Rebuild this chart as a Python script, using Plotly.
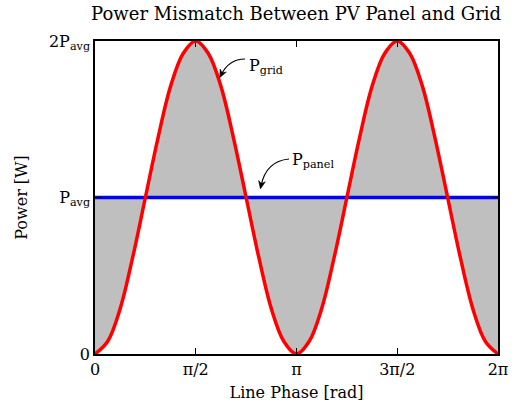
import math
import plotly.graph_objects as go

# Line phase samples (multiples of pi/16), in radians
phase_steps = list(range(0, 33))
phase = [k * math.pi / 16 for k in phase_steps]

# Grid power, in units of P_avg
p_grid = [0.00, 0.08, 0.29, 0.62, 1.00, 1.38, 1.71, 1.92, 2.00,
          1.92, 1.71, 1.38, 1.00, 0.62, 0.29, 0.08, 0.00,
          0.08, 0.29, 0.62, 1.00, 1.38, 1.71, 1.92, 2.00,
          1.92, 1.71, 1.38, 1.00, 0.62, 0.29, 0.08, 0.00]
# Panel power (constant P_avg)
p_panel = [1.0] * 33

x_tick_vals = [0, math.pi / 2, math.pi, 3 * math.pi / 2, 2 * math.pi]
x_tick_text = ["0", "π/2", "π", "3π/2", "2π"]
y_tick_vals = [0, 1, 2]
y_tick_text = ["0", "P<sub>avg</sub>", "2P<sub>avg</sub>"]

FONT = "DejaVu Serif"

fig = go.Figure()
fig.add_trace(go.Scatter(x=phase, y=p_panel, mode="lines",
                         line=dict(color="rgba(0,0,0,0)", width=0),
                         showlegend=False, hoverinfo="skip"))
fig.add_trace(go.Scatter(x=phase, y=p_grid, mode="lines", fill="tonexty",
                         fillcolor="#bfbfbf", line=dict(color="rgba(0,0,0,0)", width=0, shape="spline"),
                         showlegend=False, hoverinfo="skip"))
fig.add_trace(go.Scatter(x=phase, y=p_panel, mode="lines",
                         line=dict(color="#0000ff", width=3.5), showlegend=False))
fig.add_trace(go.Scatter(x=phase, y=p_grid, mode="lines",
                         line=dict(color="#ff0000", width=3.5, shape="spline"), showlegend=False))

# curved arrows (pixel positions converted to data coordinates)
def px2x(px):
    return (px - 95) / 403 * 2 * math.pi

def px2y(py):
    return (354 - py) / 313 * 2

arrows = [
    ((245, 59), (229, 59), (221, 75)),
    ((289, 159), (266, 161), (261, 186)),
]
for (s, c, e) in arrows:
    path = "M {} {} Q {} {} {} {}".format(px2x(s[0]), px2y(s[1]), px2x(c[0]), px2y(c[1]), px2x(e[0]), px2y(e[1]))
    fig.add_shape(type="path", path=path, xref="x", yref="y",
                  line=dict(color="black", width=1.2))
    dx, dy = e[0] - c[0], e[1] - c[1]
    n = math.hypot(dx, dy)
    ux, uy = dx / n, dy / n
    tip = (e[0] + ux * 3, e[1] + uy * 3)
    base = (tip[0] - ux * 8, tip[1] - uy * 8)
    px_, py_ = -uy, ux
    p1 = (base[0] + px_ * 3.5, base[1] + py_ * 3.5)
    p2 = (base[0] - px_ * 3.5, base[1] - py_ * 3.5)
    mid = (tip[0] - ux * 5.5, tip[1] - uy * 5.5)
    head = "M {} {} L {} {} L {} {} L {} {} Z".format(
        px2x(tip[0]), px2y(tip[1]), px2x(p1[0]), px2y(p1[1]),
        px2x(mid[0]), px2y(mid[1]), px2x(p2[0]), px2y(p2[1]))
    fig.add_shape(type="path", path=head, xref="x", yref="y",
                  line=dict(color="black", width=0.5), fillcolor="black")

fig.add_annotation(x=px2x(247), y=px2y(66), xref="x", yref="y", text="P<sub>grid</sub>",
                   showarrow=False, xanchor="left", yanchor="middle",
                   font=dict(family=FONT, size=16, color="black"))
fig.add_annotation(x=px2x(290), y=px2y(160), xref="x", yref="y", text="P<sub>panel</sub>",
                   showarrow=False, xanchor="left", yanchor="middle",
                   font=dict(family=FONT, size=16, color="black"))

fig.update_layout(
    width=515, height=404,
    margin=dict(l=95, r=17, t=41, b=50),
    paper_bgcolor="white", plot_bgcolor="white",
    font=dict(family=FONT, size=16, color="black"),
    title=dict(text="Power Mismatch Between PV Panel and Grid", x=0.575, xanchor="center",
               y=0.965, yanchor="middle", font=dict(family=FONT, size=18, color="black")),
    xaxis=dict(range=[0, 2 * math.pi], tickvals=x_tick_vals, ticktext=x_tick_text,
               showgrid=False, zeroline=False, showline=True, linecolor="black", linewidth=1.5,
               mirror="ticks", ticks="inside", ticklen=6, tickcolor="black", automargin=False,
               title=dict(text="Line Phase [rad]", standoff=9, font=dict(size=16))),
    yaxis=dict(range=[0, 2], tickvals=y_tick_vals, ticktext=y_tick_text,
               showgrid=False, zeroline=False, showline=True, linecolor="black", linewidth=1.5,
               mirror="ticks", ticks="inside", ticklen=6, tickcolor="black", automargin=False,
               title=dict(text="Power [W]", standoff=17, font=dict(size=16))),
)

fig.write_html("out.html", config={"displayModeBar": False},
               post_script="document.body.style.margin='0';")
